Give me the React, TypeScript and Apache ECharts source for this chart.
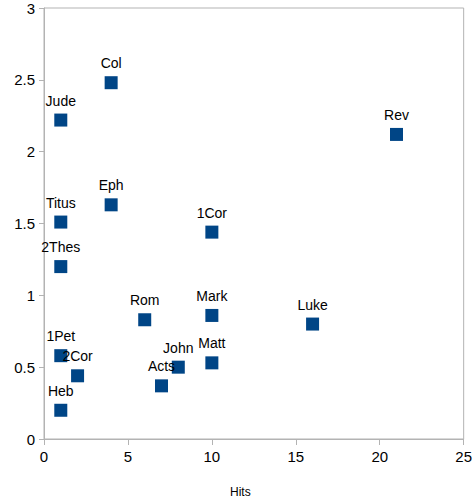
import React, { useEffect, useRef } from "react";
import * as echarts from "echarts";

const names = ["Col", "Jude", "Rev", "Eph", "Titus", "1Cor", "2Thes", "Rom", "Mark", "Luke", "1Pet", "2Cor", "John", "Matt", "Acts", "Heb"];
const hits = [4, 1, 21, 4, 1, 10, 1, 6, 10, 16, 1, 2, 8, 10, 7, 1];
const values = [2.48, 2.22, 2.12, 1.63, 1.51, 1.44, 1.2, 0.83, 0.86, 0.8, 0.58, 0.44, 0.5, 0.53, 0.37, 0.2];

export default function App() {
  const ref = useRef<HTMLDivElement>(null);
  useEffect(() => {
    if (!ref.current) return;
    const chart = echarts.init(ref.current, null, { renderer: "svg" });
    const axisLine = { show: true, lineStyle: { color: "#b3b3b3", width: 1 } };
    chart.setOption({
      animation: false,
      textStyle: { fontFamily: "Liberation Sans" },
      grid: { left: 44, right: 10, top: 8, bottom: 63, show: true, borderColor: "#b3b3b3", borderWidth: 1, backgroundColor: "transparent" },
      graphic: [
        {
          type: "text",
          left: 230,
          top: 486,
          style: { text: "Hits", fontSize: 12, fill: "#000", fontFamily: "Liberation Sans" },
        },
      ],
      xAxis: {
        type: "value",
        min: 0,
        max: 25,
        interval: 5,
        axisLine,
        axisTick: { show: true, length: 6, lineStyle: { color: "#b3b3b3" } },
        splitLine: { show: false },
        axisLabel: { fontSize: 15, color: "#000", margin: 10 },
      },
      yAxis: {
        type: "value",
        min: 0,
        max: 3,
        interval: 0.5,
        axisLine,
        axisTick: { show: true, length: 5, lineStyle: { color: "#b3b3b3" } },
        splitLine: { show: false },
        axisLabel: { fontSize: 15, color: "#000", margin: 9 },
      },
      series: [
        {
          type: "scatter",
          symbol: "rect",
          symbolSize: 13,
          itemStyle: { color: "#004586", opacity: 1 },
          data: hits.map((h, i) => ({ value: [h, values[i]], name: names[i] })),
          label: {
            show: true,
            position: "top",
            distance: 6,
            formatter: (p: any) => p.name,
            fontSize: 14,
            color: "#000",
            fontFamily: "Liberation Sans",
          },
        },
      ],
    });
    return () => chart.dispose();
  }, []);
  return <div ref={ref} style={{ width: 475, height: 502, position: "absolute", left: 0, top: 0 }} />;
}
